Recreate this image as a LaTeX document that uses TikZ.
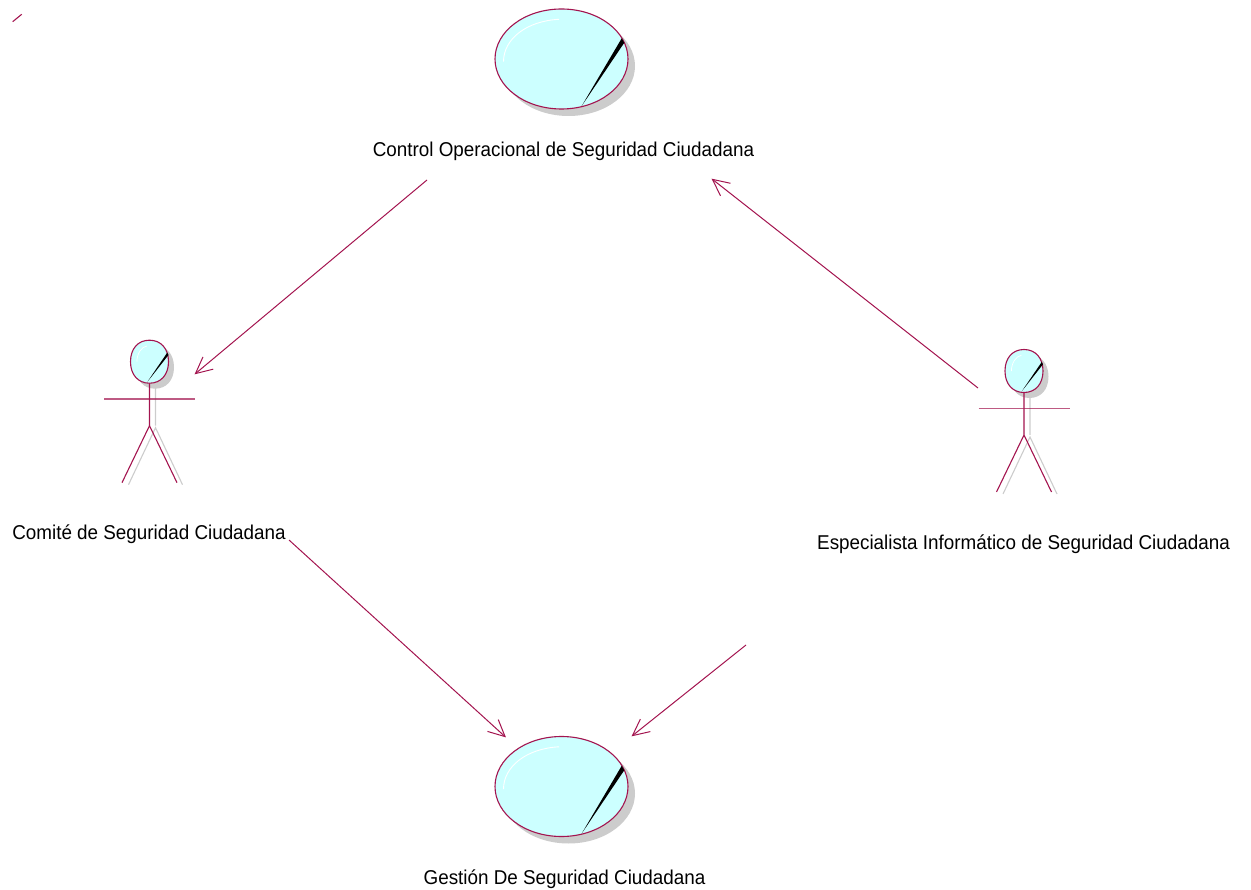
\documentclass[tikz,border=0pt]{standalone}
\usepackage{fontspec}
\setmainfont{Liberation Sans}
\newfontfamily\lblfont[FakeStretch=0.942]{Liberation Sans}
\usetikzlibrary{shapes.geometric}
\definecolor{umlline}{HTML}{A3144F}
\definecolor{umlfill}{HTML}{CCFFFF}
\definecolor{umlshadow}{HTML}{CCCCCC}
\pgfarrowsdeclare{openv}{openv}
{\pgfarrowsleftextend{-17pt}\pgfarrowsrightextend{0.6pt}}
{\pgfsetdash{}{0pt}\pgfsetmiterjoin
 \pgfpathmoveto{\pgfpoint{-16.5pt}{8pt}}
 \pgfpathlineto{\pgfpoint{0pt}{0pt}}
 \pgfpathlineto{\pgfpoint{-16.5pt}{-8pt}}
 \pgfusepathqstroke}
\tikzset{
  conn/.style={draw=umlline,line width=1pt,-openv},
  caseshape/.style={ellipse,draw=umlline,line width=1.1pt,fill=umlfill,minimum width=133pt,minimum height=100pt,inner sep=0pt},
  caseshadow/.style={ellipse,fill=umlshadow,minimum width=133pt,minimum height=100pt,inner sep=0pt},
  headanchor/.style={ellipse,minimum width=38pt,minimum height=43pt,inner sep=0pt},
  limb/.style={draw=umlline,line width=1.1pt},
  limbshadow/.style={draw=umlshadow,line width=1.1pt},
  lbl/.style={font=\lblfont\fontsize{20}{22}\selectfont,inner sep=0pt,text=black}
}
\newcommand{\usecase}[3]{%
  \node[caseshadow] (#1s) at (#2+7,#3+7) {};
  \node[caseshape] (#1) at (#2,#3) {};
  \fill[black] (#2+60.2,#3-20.7) -- (#2+62.8,#3-16.3) -- (#2+20.2,#3+47) -- cycle;
  \draw[white,line width=0.9pt] (#2-58,#3+2.7) .. controls (#2-58,#3-20) and (#2-35,#3-38) .. (#2-2.5,#3-39.7);
}
\newcommand{\headpath}[2]{(#1-19,#2) .. controls (#1-19,#2-13) and (#1-11.5,#2-21.5) .. (#1,#2-21.5) .. controls (#1+11.5,#2-21.5) and (#1+19,#2-13) .. (#1+19,#2) .. controls (#1+19,#2+13) and (#1+11.5,#2+21.5) .. (#1,#2+21.5) .. controls (#1-11.5,#2+21.5) and (#1-19,#2+13) .. (#1-19,#2) -- cycle}
\newcommand{\actorfig}[3]{%
  \draw[limbshadow] (#2+6,#3+22) -- (#2+6,#3+64) (#2-21,#3+123) -- (#2+6,#3+66) -- (#2+33,#3+123);
  \fill[umlshadow] \headpath{#2+5.5}{#3+5.5};
  \node[headanchor] (#1) at (#2,#3) {};
  \filldraw[draw=umlline,fill=umlfill,line width=1.1pt] \headpath{#2}{#3};
  \fill[black] (#2+17.7,#3-9) -- (#2+19,#3-6.7) -- (#2-2,#3+20) -- cycle;
  \draw[white,line width=0.7pt] (#2-12.6,#3) .. controls (#2-12.6,#3-8) and (#2-8,#3-15) .. (#2-2.6,#3-15.7);
  \draw[limb] (#1.south) -- (#2,#3+64) (#2-27.5,#3+121) -- (#2,#3+64) -- (#2+27.5,#3+121);
  \draw[limb,line width=1.5pt,draw opacity=0.7] (#2-45.5,#3+37.5) -- (#2+45.5,#3+37.5);
}
\begin{document}
\begin{tikzpicture}[x=1pt,y=-1pt]
\useasboundingbox (0,0) rectangle (1251,890);
\draw[limb] (12.7,21.7) -- (21.7,14.3);
\usecase{control}{561.5}{59}
\usecase{gestion}{561.5}{786.5}
\actorfig{comite}{149.5}{361.7}
\actorfig{espec}{1024}{371}
\node[lbl] (lcontrol) at (563.5,151) {Control Operacional de Seguridad Ciudadana};
\node[lbl] (lcomite) at (149,534) {Comité de Seguridad Ciudadana};
\node[lbl] (lespec) at (1023.5,544) {Especialista Informático de Seguridad Ciudadana};
\node[lbl] (lgestion) at (564.5,879) {Gestión De Seguridad Ciudadana};
\coordinate (a1) at (427,180);
\coordinate (a2) at (195,374);
\coordinate (b1) at (978,388);
\coordinate (b2) at (712,179);
\coordinate (c1) at (289,540);
\coordinate (c2) at (505.5,737);
\coordinate (d1) at (746,645);
\coordinate (d2) at (632,736);
\draw[conn] (a1) -- (a2);
\draw[conn] (b1) -- (b2);
\draw[conn] (c1) -- (c2);
\draw[conn] (d1) -- (d2);
\end{tikzpicture}
\end{document}
